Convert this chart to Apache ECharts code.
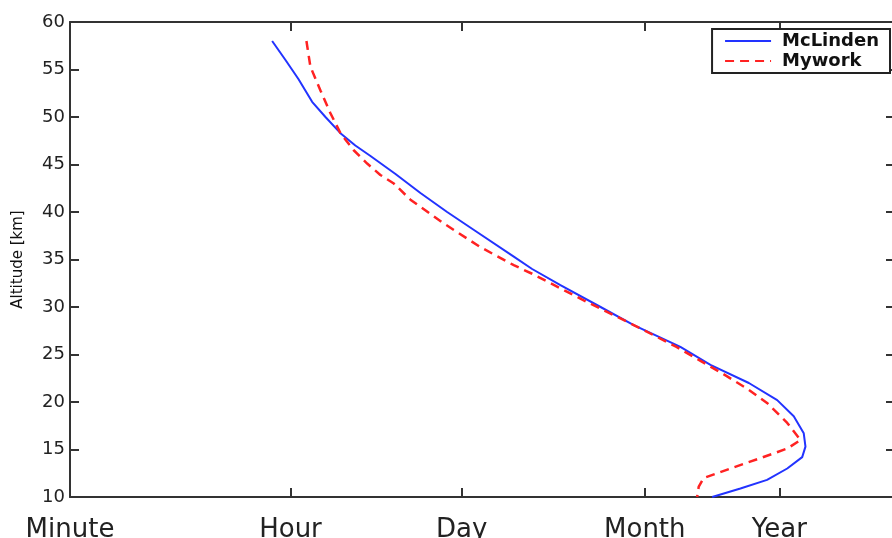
<!DOCTYPE html>
<html>
<head>
<meta charset="utf-8">
<script src="https://cdn.jsdelivr.net/npm/echarts@6/dist/echarts.min.js"></script>
<style>
  html, body { margin: 0; padding: 0; background: #fff; }
  #main { width: 892px; height: 538px; }
</style>
</head>
<body>
<div id="main"></div>
<script>
// altitude levels (km) and lifetime (seconds)
var mclindenAlt = [58, 56, 54, 51.6, 50, 48.3, 47, 45.9, 44, 42, 40, 38, 35.3, 34, 32.3, 30, 28.1, 25.8, 23.9, 22, 20.2, 18.5, 16.7, 15.3, 14.2, 13, 11.8, 10.9, 10];
var mclindenTime = [2560, 3280, 4170, 5380, 6890, 9100, 12000, 15900, 25300, 40200, 66000, 111700, 227500, 320000, 541000, 1.14e6, 2.11e6, 5.02e6, 8.77e6, 1.79e7, 3.03e7, 4.12e7, 4.96e7, 5.12e7, 4.82e7, 3.65e7, 2.51e7, 1.53e7, 9.06e6];

var myworkAlt = [58, 55.3, 52.8, 50.4, 48.3, 46.5, 45.1, 43.9, 43, 41.3, 38.8, 36.3, 34.4, 33.5, 30.7, 28.1, 25.8, 22.7, 21.4, 19.9, 17.8, 16, 15.1, 14.1, 13, 12, 11.1, 10];
var myworkTime = [4840, 5210, 6280, 7560, 9100, 11650, 14950, 19100, 24500, 33400, 62000, 122500, 227500, 320000, 834000, 2.11e6, 4.67e6, 1.196e7, 1.735e7, 2.51e7, 3.65e7, 4.67e7, 3.65e7, 2.22e7, 1.27e7, 7.74e6, 7.06e6, 6.85e6];

// time tick positions (seconds) and their names
var tickValues = [60, 3600, 86400, 2592000, 31536000];
var tickNames = ['Minute', 'Hour', 'Day', 'Month', 'Year'];

function pairs(xs, ys) {
    var out = [];
    for (var i = 0; i < xs.length; i++) out.push([xs[i], ys[i]]);
    return out;
}

var chart = echarts.init(document.getElementById('main'));

var axisColor = '#333';

var xCommon = {
    type: 'log',
    logBase: 10,
    min: 60,
    max: 2.7e8,
    splitLine: { show: false },
    axisLine: { show: true, lineStyle: { color: axisColor, width: 2 } },
    axisTick: { show: true, inside: true, length: 9, customValues: tickValues, lineStyle: { color: axisColor, width: 2 } },
    minorTick: { show: false }
};

var yCommon = {
    type: 'value',
    min: 10,
    max: 60,
    interval: 5,
    splitLine: { show: false },
    axisLine: { show: true, lineStyle: { color: axisColor, width: 2 } },
    axisTick: { show: true, inside: true, length: 9, lineStyle: { color: axisColor, width: 2 } }
};

var option = {
    backgroundColor: '#fff',
    animation: false,
    grid: {
        left: 70,
        right: -3,
        top: 22,
        bottom: 41,
        containLabel: false,
        outerBoundsMode: 'none'
    },
    legend: {
        orient: 'vertical',
        right: 2,
        top: 29,
        itemWidth: 46,
        itemHeight: 18,
        itemGap: 2,
        padding: [3, 11, 3, 12],
        borderColor: '#222',
        borderWidth: 2,
        borderRadius: 0,
        backgroundColor: '#fff',
        itemStyle: { opacity: 0 },
        textStyle: { fontFamily: 'DejaVu Sans', fontSize: 18, fontWeight: 'bold', color: '#111', padding: [0, 0, 0, 6] },
        data: ['McLinden', 'Mywork']
    },
    xAxis: [
        Object.assign({}, xCommon, {
            position: 'bottom',
            axisLabel: {
                show: true,
                customValues: tickValues,
                margin: 20,
                fontFamily: 'DejaVu Sans',
                fontSize: 26,
                color: '#222',
                formatter: function (v) {
                    for (var i = 0; i < tickValues.length; i++) {
                        if (Math.abs(Math.log10(v) - Math.log10(tickValues[i])) < 1e-6) return tickNames[i];
                    }
                    return '';
                }
            }
        }),
        Object.assign({}, xCommon, {
            position: 'top',
            axisLabel: { show: false }
        })
    ],
    yAxis: [
        Object.assign({}, yCommon, {
            position: 'left',
            name: 'Altitude [km]',
            nameLocation: 'middle',
            nameGap: 44,
            nameTextStyle: { fontFamily: 'DejaVu Sans', fontSize: 15, color: '#111' },
            axisLabel: { margin: 5, fontFamily: 'DejaVu Sans', fontSize: 18, color: '#222' }
        }),
        Object.assign({}, yCommon, {
            position: 'right',
            axisLabel: { show: false }
        })
    ],
    series: [
        {
            name: 'McLinden',
            type: 'line',
            xAxisIndex: 0,
            yAxisIndex: 0,
            symbol: 'none',
            smooth: false,
            lineStyle: { color: '#2233ff', width: 2 },
            itemStyle: { color: '#2233ff' },
            data: pairs(mclindenTime, mclindenAlt)
        },
        {
            name: 'Mywork',
            type: 'line',
            xAxisIndex: 0,
            yAxisIndex: 0,
            symbol: 'none',
            smooth: false,
            lineStyle: { color: '#ff2222', width: 2.5, type: [9, 6] },
            itemStyle: { color: '#ff2222' },
            data: pairs(myworkTime, myworkAlt)
        }
    ]
};

chart.setOption(option);
</script>
</body>
</html>
